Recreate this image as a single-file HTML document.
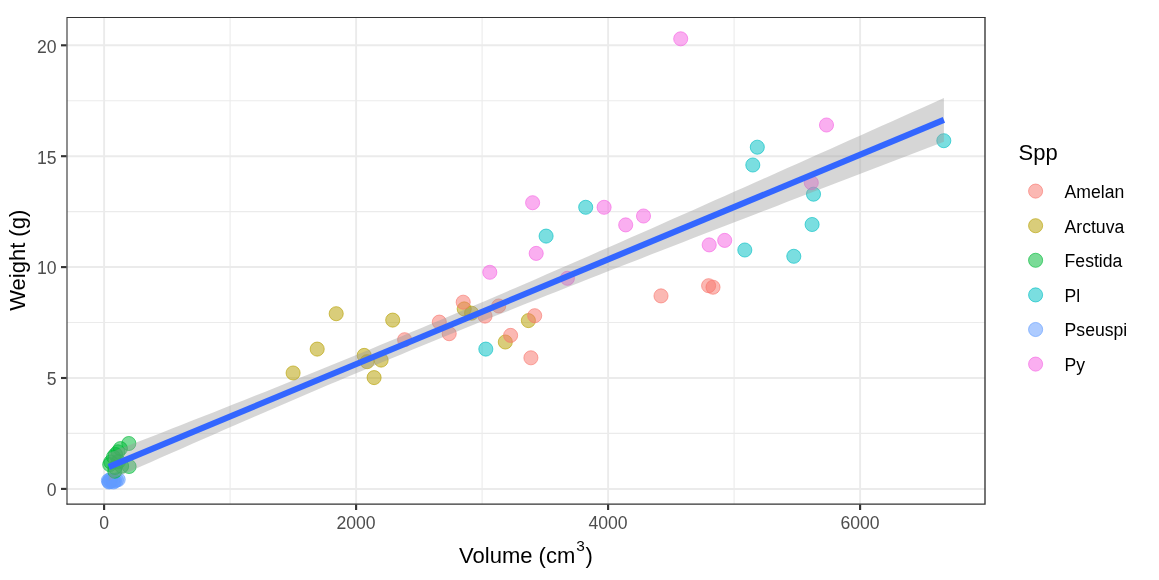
<!DOCTYPE html>
<html><head><meta charset="utf-8"><title>Weight vs Volume</title>
<style>
html,body{margin:0;padding:0;background:#fff;}
body{width:1159px;height:580px;overflow:hidden;}
svg{display:block;font-family:"Liberation Sans",Arial,Helvetica,sans-serif;}
.ax{font-size:17.6px;fill:#4D4D4D;}
.ti{font-size:22px;fill:#000;}
.lg{font-size:17.6px;fill:#000;}
</style></head><body>
<svg width="1159" height="580" viewBox="0 0 1159 580">
<rect width="1159" height="580" fill="#fff"/>
<defs><clipPath id="cp"><rect x="67.0" y="17.5" width="918.0" height="486.5"/></clipPath></defs>
<g clip-path="url(#cp)">
<line x1="230.1" x2="230.1" y1="17.5" y2="504.0" stroke="#EBEBEB" stroke-width="1.07"/>
<line x1="482.1" x2="482.1" y1="17.5" y2="504.0" stroke="#EBEBEB" stroke-width="1.07"/>
<line x1="734.1" x2="734.1" y1="17.5" y2="504.0" stroke="#EBEBEB" stroke-width="1.07"/>
<line x1="986.1" x2="986.1" y1="17.5" y2="504.0" stroke="#EBEBEB" stroke-width="1.07"/>
<line y1="433.4" y2="433.4" x1="67.0" x2="985.0" stroke="#EBEBEB" stroke-width="1.07"/>
<line y1="322.5" y2="322.5" x1="67.0" x2="985.0" stroke="#EBEBEB" stroke-width="1.07"/>
<line y1="211.6" y2="211.6" x1="67.0" x2="985.0" stroke="#EBEBEB" stroke-width="1.07"/>
<line y1="100.8" y2="100.8" x1="67.0" x2="985.0" stroke="#EBEBEB" stroke-width="1.07"/>
<line x1="104.1" x2="104.1" y1="17.5" y2="504.0" stroke="#EBEBEB" stroke-width="1.9"/>
<line x1="356.1" x2="356.1" y1="17.5" y2="504.0" stroke="#EBEBEB" stroke-width="1.9"/>
<line x1="608.1" x2="608.1" y1="17.5" y2="504.0" stroke="#EBEBEB" stroke-width="1.9"/>
<line x1="860.1" x2="860.1" y1="17.5" y2="504.0" stroke="#EBEBEB" stroke-width="1.9"/>
<line y1="488.9" y2="488.9" x1="67.0" x2="985.0" stroke="#EBEBEB" stroke-width="2"/>
<line y1="378.0" y2="378.0" x1="67.0" x2="985.0" stroke="#EBEBEB" stroke-width="2"/>
<line y1="267.1" y2="267.1" x1="67.0" x2="985.0" stroke="#EBEBEB" stroke-width="2"/>
<line y1="156.2" y2="156.2" x1="67.0" x2="985.0" stroke="#EBEBEB" stroke-width="2"/>
<line y1="45.3" y2="45.3" x1="67.0" x2="985.0" stroke="#EBEBEB" stroke-width="2"/>
<g fill="#B79F00" fill-opacity="0.52" stroke="#B79F00" stroke-opacity="0.62" stroke-width="1">
<circle cx="293.1" cy="373.0" r="7.05"/>
<circle cx="317.2" cy="349.1" r="7.05"/>
<circle cx="336.2" cy="313.7" r="7.05"/>
<circle cx="364.2" cy="355.4" r="7.05"/>
<circle cx="367.1" cy="361.7" r="7.05"/>
<circle cx="381.1" cy="360.1" r="7.05"/>
<circle cx="374.1" cy="377.6" r="7.05"/>
<circle cx="392.7" cy="320.1" r="7.05"/>
<circle cx="464.2" cy="308.9" r="7.05"/>
<circle cx="471.6" cy="313.2" r="7.05"/>
<circle cx="505.3" cy="342.0" r="7.05"/>
<circle cx="528.4" cy="320.6" r="7.05"/>
</g>
<g fill="#F8766D" fill-opacity="0.52" stroke="#F8766D" stroke-opacity="0.62" stroke-width="1">
<circle cx="404.6" cy="339.7" r="7.05"/>
<circle cx="439.3" cy="322.1" r="7.05"/>
<circle cx="449.2" cy="333.7" r="7.05"/>
<circle cx="463.2" cy="302.2" r="7.05"/>
<circle cx="485.0" cy="316.1" r="7.05"/>
<circle cx="498.7" cy="306.0" r="7.05"/>
<circle cx="510.6" cy="335.4" r="7.05"/>
<circle cx="534.7" cy="315.7" r="7.05"/>
<circle cx="530.9" cy="357.8" r="7.05"/>
<circle cx="661.0" cy="295.9" r="7.05"/>
<circle cx="708.6" cy="285.7" r="7.05"/>
<circle cx="713.0" cy="287.2" r="7.05"/>
</g>
<g fill="#00BFC4" fill-opacity="0.52" stroke="#00BFC4" stroke-opacity="0.62" stroke-width="1">
<circle cx="485.8" cy="349.1" r="7.05"/>
<circle cx="546.1" cy="236.1" r="7.05"/>
<circle cx="585.7" cy="207.3" r="7.05"/>
<circle cx="744.8" cy="250.0" r="7.05"/>
<circle cx="793.8" cy="256.3" r="7.05"/>
<circle cx="757.3" cy="147.2" r="7.05"/>
<circle cx="752.8" cy="165.0" r="7.05"/>
<circle cx="813.5" cy="194.2" r="7.05"/>
<circle cx="812.1" cy="224.5" r="7.05"/>
<circle cx="943.8" cy="140.7" r="7.05"/>
</g>
<g fill="#F564E3" fill-opacity="0.52" stroke="#F564E3" stroke-opacity="0.62" stroke-width="1">
<circle cx="489.8" cy="272.3" r="7.05"/>
<circle cx="532.6" cy="202.7" r="7.05"/>
<circle cx="536.2" cy="253.4" r="7.05"/>
<circle cx="567.4" cy="278.3" r="7.05"/>
<circle cx="604.1" cy="207.3" r="7.05"/>
<circle cx="625.7" cy="224.9" r="7.05"/>
<circle cx="643.5" cy="216.0" r="7.05"/>
<circle cx="680.7" cy="38.8" r="7.05"/>
<circle cx="709.2" cy="244.9" r="7.05"/>
<circle cx="724.7" cy="240.4" r="7.05"/>
<circle cx="826.5" cy="125.0" r="7.05"/>
<circle cx="811.3" cy="182.7" r="7.05"/>
</g>
<g fill="#619CFF" fill-opacity="0.52" stroke="#619CFF" stroke-opacity="0.62" stroke-width="1">
<circle cx="108.4" cy="480.6" r="7.05"/>
<circle cx="109.4" cy="481.6" r="7.05"/>
<circle cx="111.0" cy="481.2" r="7.05"/>
<circle cx="112.8" cy="480.4" r="7.05"/>
<circle cx="114.6" cy="481.0" r="7.05"/>
<circle cx="116.4" cy="480.2" r="7.05"/>
<circle cx="118.2" cy="479.6" r="7.05"/>
<circle cx="110.0" cy="479.8" r="7.05"/>
<circle cx="113.5" cy="482.0" r="7.05"/>
<circle cx="109.0" cy="482.0" r="7.05"/>
</g>
<g fill="#00BA38" fill-opacity="0.52" stroke="#00BA38" stroke-opacity="0.62" stroke-width="1">
<circle cx="128.8" cy="443.5" r="7.05"/>
<circle cx="129.1" cy="466.5" r="7.05"/>
<circle cx="120.4" cy="448.6" r="7.05"/>
<circle cx="118.0" cy="451.8" r="7.05"/>
<circle cx="115.5" cy="454.5" r="7.05"/>
<circle cx="113.5" cy="457.0" r="7.05"/>
<circle cx="110.8" cy="462.0" r="7.05"/>
<circle cx="109.7" cy="464.6" r="7.05"/>
<circle cx="121.6" cy="466.2" r="7.05"/>
<circle cx="115.0" cy="467.5" r="7.05"/>
<circle cx="118.5" cy="461.5" r="7.05"/>
<circle cx="114.8" cy="471.2" r="7.05"/>
</g>
<path d="M108.8,453.2 L119.2,449.1 L129.7,445.1 L140.1,441.0 L150.6,436.9 L161.0,432.9 L171.4,428.8 L181.9,424.7 L192.3,420.6 L202.7,416.5 L213.2,412.4 L223.6,408.3 L234.1,404.1 L244.5,400.0 L254.9,395.8 L265.4,391.7 L275.8,387.5 L286.3,383.3 L296.7,379.1 L307.1,374.9 L317.6,370.7 L328.0,366.5 L338.5,362.2 L348.9,358.0 L359.3,353.7 L369.8,349.4 L380.2,345.1 L390.6,340.8 L401.1,336.4 L411.5,332.1 L422.0,327.7 L432.4,323.3 L442.8,318.9 L453.3,314.5 L463.7,310.1 L474.2,305.6 L484.6,301.2 L495.0,296.7 L505.5,292.2 L515.9,287.7 L526.4,283.2 L536.8,278.7 L547.2,274.1 L557.7,269.6 L568.1,265.0 L578.5,260.5 L589.0,255.9 L599.4,251.3 L609.9,246.8 L620.3,242.2 L630.7,237.6 L641.2,233.0 L651.6,228.4 L662.1,223.8 L672.5,219.1 L682.9,214.5 L693.4,209.9 L703.8,205.3 L714.2,200.6 L724.7,196.0 L735.1,191.3 L745.6,186.7 L756.0,182.0 L766.4,177.4 L776.9,172.7 L787.3,168.1 L797.8,163.4 L808.2,158.8 L818.6,154.1 L829.1,149.4 L839.5,144.8 L850.0,140.1 L860.4,135.4 L870.8,130.8 L881.3,126.1 L891.7,121.4 L902.1,116.7 L912.6,112.1 L923.0,107.4 L933.5,102.7 L943.9,98.0 L943.9,141.8 L933.5,145.8 L923.0,149.8 L912.6,153.8 L902.1,157.8 L891.7,161.8 L881.3,165.8 L870.8,169.8 L860.4,173.8 L850.0,177.8 L839.5,181.8 L829.1,185.8 L818.6,189.8 L808.2,193.8 L797.8,197.8 L787.3,201.8 L776.9,205.9 L766.4,209.9 L756.0,213.9 L745.6,217.9 L735.1,222.0 L724.7,226.0 L714.2,230.0 L703.8,234.1 L693.4,238.1 L682.9,242.2 L672.5,246.2 L662.1,250.3 L651.6,254.3 L641.2,258.4 L630.7,262.5 L620.3,266.6 L609.9,270.6 L599.4,274.7 L589.0,278.8 L578.5,282.9 L568.1,287.1 L557.7,291.2 L547.2,295.3 L536.8,299.5 L526.4,303.6 L515.9,307.8 L505.5,312.0 L495.0,316.1 L484.6,320.3 L474.2,324.6 L463.7,328.8 L453.3,333.0 L442.8,337.3 L432.4,341.6 L422.0,345.8 L411.5,350.1 L401.1,354.5 L390.6,358.8 L380.2,363.1 L369.8,367.5 L359.3,371.9 L348.9,376.3 L338.5,380.7 L328.0,385.1 L317.6,389.6 L307.1,394.0 L296.7,398.5 L286.3,403.0 L275.8,407.5 L265.4,412.0 L254.9,416.5 L244.5,421.0 L234.1,425.6 L223.6,430.1 L213.2,434.7 L202.7,439.2 L192.3,443.8 L181.9,448.4 L171.4,453.0 L161.0,457.6 L150.6,462.2 L140.1,466.8 L129.7,471.4 L119.2,476.0 L108.8,480.6Z" fill="#999999" fill-opacity="0.4"/>
<line x1="108.8" y1="466.9" x2="943.9" y2="119.9" stroke="#3366FF" stroke-width="6.1"/>
</g>
<path d="M67.0,504.6 V17.5 H985.6" fill="none" stroke="#333333" stroke-width="1.1"/>
<path d="M985.0,17.5 V504.15 H66.5" fill="none" stroke="#333333" stroke-width="1.35" stroke-linejoin="miter"/>
<line x1="104.1" x2="104.1" y1="504.5" y2="510.0" stroke="#333333" stroke-width="2.13"/>
<text class="ax" x="104.1" y="529.4" text-anchor="middle">0</text>
<line x1="356.1" x2="356.1" y1="504.5" y2="510.0" stroke="#333333" stroke-width="2.13"/>
<text class="ax" x="356.1" y="529.4" text-anchor="middle">2000</text>
<line x1="608.1" x2="608.1" y1="504.5" y2="510.0" stroke="#333333" stroke-width="2.13"/>
<text class="ax" x="608.1" y="529.4" text-anchor="middle">4000</text>
<line x1="860.1" x2="860.1" y1="504.5" y2="510.0" stroke="#333333" stroke-width="2.13"/>
<text class="ax" x="860.1" y="529.4" text-anchor="middle">6000</text>
<line y1="488.9" y2="488.9" x1="66.5" x2="61.0" stroke="#333333" stroke-width="2.13"/>
<text class="ax" x="56.6" y="496.2" text-anchor="end">0</text>
<line y1="378.0" y2="378.0" x1="66.5" x2="61.0" stroke="#333333" stroke-width="2.13"/>
<text class="ax" x="56.6" y="385.3" text-anchor="end">5</text>
<line y1="267.1" y2="267.1" x1="66.5" x2="61.0" stroke="#333333" stroke-width="2.13"/>
<text class="ax" x="56.6" y="274.4" text-anchor="end">10</text>
<line y1="156.2" y2="156.2" x1="66.5" x2="61.0" stroke="#333333" stroke-width="2.13"/>
<text class="ax" x="56.6" y="163.5" text-anchor="end">15</text>
<line y1="45.3" y2="45.3" x1="66.5" x2="61.0" stroke="#333333" stroke-width="2.13"/>
<text class="ax" x="56.6" y="52.6" text-anchor="end">20</text>
<text class="ti" x="526" y="563.4" text-anchor="middle">Volume (cm<tspan font-size="15.4" dy="-12" dx="1">3</tspan><tspan dy="12" dx="0.8">)</tspan></text>
<text class="ti" transform="translate(25.4,260.3) rotate(-90)" text-anchor="middle">Weight (g)</text>
<text class="ti" x="1018.5" y="160">Spp</text>
<circle cx="1035.6" cy="191.1" r="7.05" fill="#F8766D" fill-opacity="0.52" stroke="#F8766D" stroke-opacity="0.62" stroke-width="1"/>
<text class="lg" x="1064.6" y="198.0">Amelan</text>
<circle cx="1035.6" cy="225.7" r="7.05" fill="#B79F00" fill-opacity="0.52" stroke="#B79F00" stroke-opacity="0.62" stroke-width="1"/>
<text class="lg" x="1064.6" y="232.6">Arctuva</text>
<circle cx="1035.6" cy="260.3" r="7.05" fill="#00BA38" fill-opacity="0.52" stroke="#00BA38" stroke-opacity="0.62" stroke-width="1"/>
<text class="lg" x="1064.6" y="267.2">Festida</text>
<circle cx="1035.6" cy="294.9" r="7.05" fill="#00BFC4" fill-opacity="0.52" stroke="#00BFC4" stroke-opacity="0.62" stroke-width="1"/>
<text class="lg" x="1064.6" y="301.8">Pl</text>
<circle cx="1035.6" cy="329.5" r="7.05" fill="#619CFF" fill-opacity="0.52" stroke="#619CFF" stroke-opacity="0.62" stroke-width="1"/>
<text class="lg" x="1064.6" y="336.4">Pseuspi</text>
<circle cx="1035.6" cy="364.1" r="7.05" fill="#F564E3" fill-opacity="0.52" stroke="#F564E3" stroke-opacity="0.62" stroke-width="1"/>
<text class="lg" x="1064.6" y="371.0">Py</text>
</svg></body></html>
